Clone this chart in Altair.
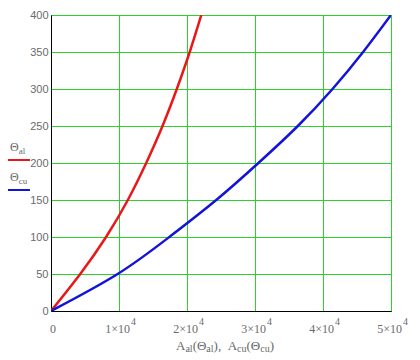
import altair as alt
import pandas as pd

# ---- data ----
theta_levels = [0, 50, 100, 150, 200, 250, 300, 350, 400]
A_al = [0, 4300, 8100, 11300, 14000, 16400, 18500, 20400, 22100]
A_cu = [0, 9800, 17400, 24300, 30500, 36300, 41400, 45900, 50000]
series_names = ["al", "cu"]
series_colors = ["#e81818", "#1414d8"]

x_tick_values = [0, 10000, 20000, 30000, 40000, 50000]
x_tick_mantissa = ["0", "1\u00d710", "2\u00d710", "3\u00d710", "4\u00d710", "5\u00d710"]
x_tick_exponent = ["", "4", "4", "4", "4", "4"]
y_tick_values = [0, 50, 100, 150, 200, 250, 300, 350, 400]

W, H = 340, 296
GRID = "#2ed02e"
GRAY = "#6a6a6a"
SANS = "Liberation Sans"
SERIF = "Liberation Serif"

rows = []
for i in range(len(theta_levels)):
    rows.append({"A": A_al[i], "theta": theta_levels[i], "s": "al", "o": i})
    rows.append({"A": A_cu[i], "theta": theta_levels[i], "s": "cu", "o": i})
df = pd.DataFrame(rows)

xscale = alt.Scale(domain=[0, 50000], nice=False, zero=False)
yscale = alt.Scale(domain=[0, 400], nice=False, zero=False)

lines = alt.Chart(df).mark_line(strokeWidth=2.5, interpolate="natural", clip=True).encode(
    x=alt.X("A:Q", scale=xscale,
            axis=alt.Axis(values=x_tick_values, labels=False, ticks=False, grid=True,
                          gridColor=GRID, gridWidth=1, domainColor="black", title=None)),
    y=alt.Y("theta:Q", scale=yscale,
            axis=alt.Axis(values=y_tick_values, ticks=False, grid=True, gridColor=GRID,
                          gridWidth=1, domainColor="black", labelColor=GRAY, labelFont=SANS,
                          labelFontSize=11, labelPadding=3, title=None)),
    color=alt.Color("s:N", scale=alt.Scale(domain=series_names, range=series_colors), legend=None),
    order="o:Q",
)

ticks_df = pd.DataFrame({"v": x_tick_values, "m": x_tick_mantissa, "e": x_tick_exponent})
zero_lab = alt.Chart(ticks_df[ticks_df.v == 0]).mark_text(
    align="center", baseline="middle", font=SERIF, fontSize=12, color=GRAY, dx=2
).encode(x=alt.X("v:Q", scale=xscale), y=alt.value(H + 18), text="m:N")
main_lab = alt.Chart(ticks_df[ticks_df.v > 0]).mark_text(
    align="right", baseline="middle", font=SERIF, fontSize=12, color=GRAY, dx=11
).encode(x=alt.X("v:Q", scale=xscale), y=alt.value(H + 18), text="m:N")
exp_lab = alt.Chart(ticks_df[ticks_df.v > 0]).mark_text(
    align="left", baseline="middle", font=SERIF, fontSize=10, color=GRAY, dx=12
).encode(x=alt.X("v:Q", scale=xscale), y=alt.value(H + 11), text="e:N")

# ---- rich-text pieces (title and legend) ----
CW = {"A": 0.722, "\u0398": 0.722, "(": 0.333, ")": 0.333, "a": 0.444, "l": 0.278,
      "c": 0.444, "u": 0.5, ",": 0.25, " ": 0.25}

def width(t, size):
    return sum(CW.get(ch, 0.5) for ch in t) * size

dummy = pd.DataFrame({"k": [0]})

def piece(t, x, y, size):
    return alt.Chart(dummy).mark_text(
        text=t, align="left", baseline="middle", font=SERIF, fontSize=size, color=GRAY
    ).encode(x=alt.value(x), y=alt.value(y))

title_parts = [("A", 13, 0), ("al", 10, 3), ("(", 13, 0), ("\u0398", 13, 0), ("al", 10, 3),
               (")", 13, 0), (" , ", 13, 0), ("A", 13, 0), ("cu", 10, 3), ("(", 13, 0),
               ("\u0398", 13, 0), ("cu", 10, 3), (")", 13, 0)]
total = sum(width(t, s) for t, s, _ in title_parts)
x0 = W / 2 - total / 2 + 4
ty = H + 35
title_layers = []
for t, s, dy in title_parts:
    title_layers.append(piece(t, x0, ty + dy, s))
    x0 += width(t, s)

legend_layers = []
leg_y = [145, 175]
for name, col, ly in zip(series_names, series_colors, leg_y):
    legend_layers.append(
        alt.Chart(dummy).mark_rule(color=col, strokeWidth=2).encode(
            x=alt.value(-43), x2=alt.value(-21), y=alt.value(ly))
    )
    legend_layers.append(piece("\u0398", -41, ly - 13, 12))
    legend_layers.append(piece(name, -41 + width("\u0398", 12), ly - 9, 9))

chart = alt.layer(lines, zero_lab, main_lab, exp_lab, *title_layers, *legend_layers).properties(
    width=W, height=H,
    autosize=alt.AutoSizeParams(type="none"),
    padding={"left": 43, "top": 7, "right": 20, "bottom": 46},
).configure_view(stroke="black", strokeWidth=1).configure_axis(domainWidth=1)

chart.save("out.html", embed_options={"renderer": "svg", "actions": False})
